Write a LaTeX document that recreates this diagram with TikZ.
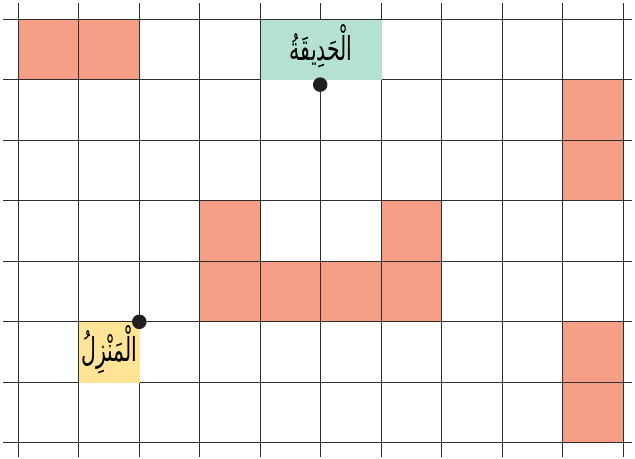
\documentclass[tikz,border=0pt]{standalone}
\usepackage{fontspec}
\newfontfamily\arabicfont[Script=Arabic]{DejaVu Sans}
\TeXXeTstate=1
\definecolor{cellred}{RGB}{245,160,134}
\definecolor{labgreen}{RGB}{180,225,208}
\definecolor{labyellow}{RGB}{255,228,152}
\definecolor{gridcol}{RGB}{45,45,45}
\tikzset{
  redcell/.style={fill=cellred},
  gridline/.style={draw=gridcol, line width=0.55pt},
  labelbox/.style={rectangle, inner sep=0pt, anchor=north west},
  labeltext/.style={inner sep=0pt, font=\arabicfont\fontsize{15.5}{17}\selectfont},
  dotmark/.style={circle, fill=black!88, inner sep=0pt, minimum size=0.24cm},
}
\newcommand{\artext}[1]{\scalebox{0.62}[1]{\beginR #1\endR}}
\begin{document}
\begin{tikzpicture}[x=1cm,y=-1cm]
\useasboundingbox (-0.302,-0.319) rectangle (10.193,7.251);
% red cells
\foreach \c/\r in {0/0,1/0,9/1,9/2,9/5,9/6,3/3,6/3,3/4,4/4,5/4,6/4}
  \fill[redcell] (\c,\r) rectangle ++(1,1);
% grid
\foreach \i in {0,...,10}
  \draw[gridline] (\i,-0.27) -- (\i,7.235);
\foreach \j in {0,...,7}
  \draw[gridline] (-0.253,\j) -- (10.14,\j);
% labels
\node[labelbox, fill=labgreen, minimum width=2cm, minimum height=1cm] (garden) at (4,0) {};
\node[labeltext] (gardentext) at ([yshift=0.06cm]garden.center) {\artext{الْحَدِيقَةُ}};
\node[labelbox, fill=labyellow, minimum width=1cm, minimum height=1cm] (house) at (1,5) {};
\node[labeltext] (housetext) at ([yshift=0.05cm]house.center) {\artext{الْمَنْزِلُ}};
% dots
\node[dotmark] (gardendot) at (4.99,1.08) {};
\node[dotmark] (housedot) at (2,5) {};
\end{tikzpicture}
\end{document}
